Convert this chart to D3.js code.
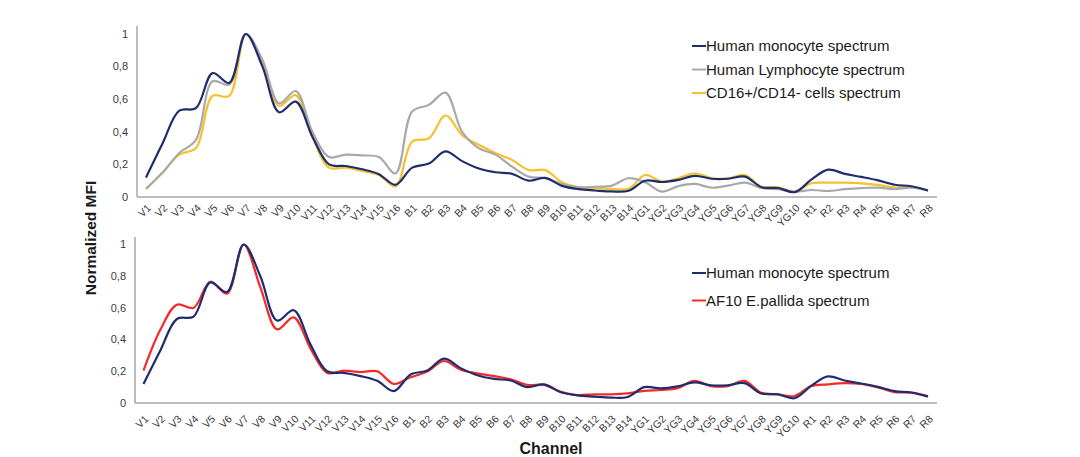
<!DOCTYPE html>
<html>
<head>
<meta charset="utf-8">
<script src="https://cdn.jsdelivr.net/npm/d3@7"></script>
<style>
  html, body { margin: 0; padding: 0; background: #fff; }
  svg { display: block; font-family: "Liberation Sans", Arial, sans-serif; }
</style>
</head>
<body>
<svg id="chart" width="1080" height="457"></svg>
<script>
const channels = ["V1","V2","V3","V4","V5","V6","V7","V8","V9","V10","V11","V12","V13","V14","V15","V16",
  "B1","B2","B3","B4","B5","B6","B7","B8","B9","B10","B11","B12","B13","B14",
  "YG1","YG2","YG3","YG4","YG5","YG6","YG7","YG8","YG9","YG10",
  "R1","R2","R3","R4","R5","R6","R7","R8"];

const monocyte = [0.12,0.33,0.53,0.545,0.76,0.70,1.0,0.80,0.52,0.585,0.37,0.20,0.19,0.17,0.14,0.075,
  0.18,0.205,0.28,0.22,0.175,0.152,0.142,0.10,0.117,0.068,0.048,0.04,0.034,0.038,
  0.10,0.092,0.105,0.13,0.112,0.112,0.125,0.06,0.055,0.03,
  0.108,0.168,0.142,0.123,0.102,0.075,0.066,0.04];

const lymphocyte = [0.05,0.15,0.27,0.35,0.71,0.69,1.0,0.84,0.575,0.65,0.40,0.245,0.26,0.255,0.245,0.145,
  0.525,0.565,0.64,0.40,0.30,0.26,0.186,0.125,0.115,0.08,0.06,0.063,0.07,0.115,
  0.09,0.033,0.067,0.08,0.057,0.07,0.088,0.055,0.048,0.033,
  0.043,0.037,0.048,0.055,0.057,0.048,0.057,0.04];

const cd16 = [0.05,0.15,0.26,0.30,0.62,0.62,1.0,0.82,0.56,0.625,0.37,0.18,0.18,0.16,0.135,0.065,
  0.34,0.36,0.50,0.38,0.32,0.27,0.227,0.165,0.165,0.09,0.06,0.055,0.05,0.05,
  0.135,0.094,0.115,0.145,0.115,0.115,0.135,0.063,0.06,0.033,
  0.084,0.088,0.088,0.084,0.074,0.057,0.063,0.04];

const af10 = [0.204,0.46,0.62,0.60,0.765,0.69,1.0,0.73,0.465,0.54,0.345,0.19,0.204,0.195,0.20,0.12,
  0.162,0.198,0.265,0.21,0.187,0.17,0.15,0.114,0.114,0.071,0.05,0.055,0.055,0.061,
  0.076,0.082,0.093,0.139,0.107,0.107,0.14,0.065,0.055,0.044,
  0.107,0.118,0.125,0.12,0.099,0.069,0.066,0.044];

const yTicks = [0, 0.2, 0.4, 0.6, 0.8, 1];
const yTickLabels = ["0", "0,2", "0,4", "0,6", "0,8", "1"];

const topSeries = [
  { name: "Human monocyte spectrum", values: monocyte, color: "#1f2d6e" },
  { name: "Human Lymphocyte spectrum", values: lymphocyte, color: "#a9a9a9" },
  { name: "CD16+/CD14- cells spectrum", values: cd16, color: "#f6c12c" }
];
const bottomSeries = [
  { name: "Human monocyte spectrum", values: monocyte, color: "#1f2d6e" },
  { name: "AF10 E.pallida spectrum", values: af10, color: "#f42a2a" }
];

const svg = d3.select("#chart");

function panel(cfg) {
  const g = svg.append("g");
  const x = d3.scalePoint().domain(channels).range([cfg.x0, cfg.x1]);
  const y = d3.scaleLinear().domain([0, 1]).range([cfg.y0, cfg.y1]);

  g.append("line").attr("x1", cfg.axisX).attr("x2", cfg.axisX)
    .attr("y1", cfg.axisTop).attr("y2", cfg.y0)
    .attr("stroke", "#a6a6a6").attr("stroke-width", 1.5);
  g.append("line").attr("x1", cfg.axisX).attr("x2", cfg.axisRight)
    .attr("y1", cfg.y0).attr("y2", cfg.y0)
    .attr("stroke", "#a6a6a6").attr("stroke-width", 1.5);

  g.selectAll(".yl").data(yTicks).join("text")
    .attr("x", cfg.axisX - 9).attr("y", d => y(d))
    .attr("dy", "0.35em").attr("text-anchor", "end")
    .attr("font-size", 11).attr("fill", "#3a3a3a")
    .text((d, i) => yTickLabels[i]);

  g.selectAll(".xl").data(channels).join("text")
    .attr("transform", d => `translate(${x(d) + 3},${cfg.y0 + cfg.labelOff}) rotate(-45)`)
    .attr("dy", "0.35em").attr("text-anchor", "end")
    .attr("font-size", 10.5).attr("fill", "#3a3a3a")
    .text(d => d);

  const line = d3.line()
    .x((d, i) => x(channels[i]))
    .y(d => y(d))
    .curve(d3.curveCatmullRom.alpha(0.5));

  cfg.series.slice().reverse().forEach(s => {
    g.append("path").datum(s.values)
      .attr("d", line).attr("fill", "none")
      .attr("stroke", s.color).attr("stroke-width", 2.2)
      .attr("stroke-linejoin", "round");
  });

  cfg.series.forEach((s, i) => {
    const ly = cfg.legY + i * cfg.legStep;
    g.append("line").attr("x1", 692).attr("x2", 706)
      .attr("y1", ly).attr("y2", ly)
      .attr("stroke", s.color).attr("stroke-width", 2);
    g.append("text").attr("x", 706).attr("y", ly).attr("dy", "0.35em")
      .attr("font-size", 15).attr("fill", "#1a1a1a").text(s.name);
  });
}

panel({ x0: 146, x1: 928, y0: 197, y1: 34, axisX: 137, axisTop: 26, axisRight: 937,
  series: topSeries, legY: 46, legStep: 23.5, labelOff: 9 });
panel({ x0: 143.5, x1: 928, y0: 403, y1: 244.5, axisX: 135, axisTop: 237, axisRight: 937,
  series: bottomSeries, legY: 273, legStep: 27.5, labelOff: 14 });

svg.append("text")
  .attr("transform", "translate(96,238) rotate(-90)")
  .attr("text-anchor", "middle").attr("font-size", 15.5).attr("font-weight", "bold")
  .attr("fill", "#1a1a1a").text("Normalized MFI");
svg.append("text")
  .attr("x", 551).attr("y", 454).attr("text-anchor", "middle")
  .attr("font-size", 16).attr("font-weight", "bold")
  .attr("fill", "#1a1a1a").text("Channel");
</script>
</body>
</html>
